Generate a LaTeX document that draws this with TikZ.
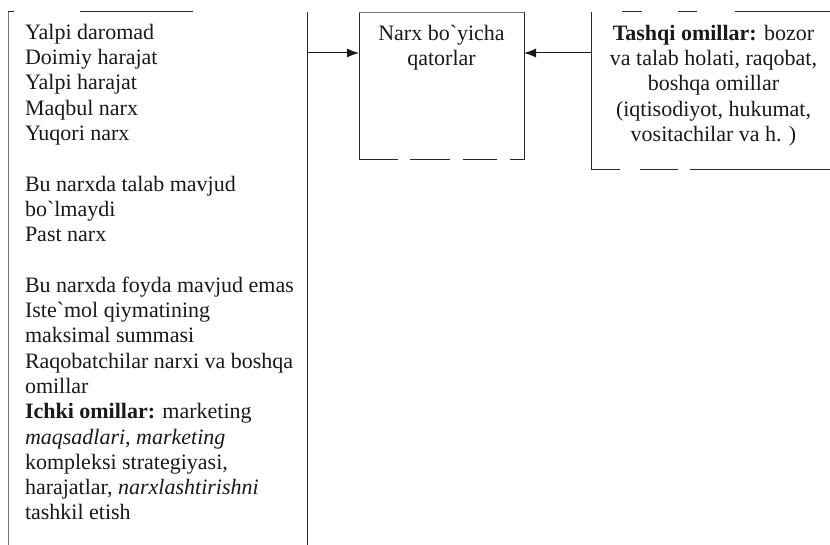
\documentclass[tikz,border=0pt]{standalone}
\usepackage{fontspec}
\setmainfont{Liberation Serif}
\usetikzlibrary{arrows.meta}

\tikzset{
  every node/.style={inner sep=0pt, outer sep=0pt},
  txt/.style={font=\fontsize{22}{25.3}\selectfont, text=black!90},
  edge/.style={draw=black!85, line width=1pt},
  faint/.style={draw=black!55, line width=0.8pt},
  link/.style={draw=black!90, line width=1pt, -{Latex[length=12pt,width=9pt]}}
}

\begin{document}
\begin{tikzpicture}[x=1pt, y=-1pt]
  \useasboundingbox (0,0) rectangle (830,545);

  % box outlines (invisible shapes, edges drawn below)
  \node[rectangle, minimum width=299pt, minimum height=536pt] (left) at (157.5,280) {};
  \node[rectangle, minimum width=165pt, minimum height=148pt] (mid) at (441.5,86) {};
  \node[rectangle, minimum width=249pt, minimum height=158pt] (right) at (715.5,91) {};

  % left box edges
  \draw[faint] (left.north west) -- (left.south west);
  \draw[edge] (left.north east) -- (left.south east);
  \draw[edge, dash pattern=on 6pt off 66pt on 113pt off 300pt] (left.north west) -- (left.north east);

  % middle box edges
  \draw[edge] (mid.north west) -- (mid.south west);
  \draw[edge] (mid.north east) -- (mid.south east);
  \draw[faint] (mid.north west) -- (mid.north east);
  \draw[edge, dash pattern=on 39pt off 12pt on 40pt off 13pt on 34pt off 13pt on 20pt] (mid.south west) -- (mid.south east);

  % right box edges
  \draw[edge] (right.north west) -- (right.south west);
  \draw[edge, dash pattern=on 0pt off 31pt on 20pt off 36pt on 19pt off 38pt on 200pt] (right.north west) -- (right.north east);
  \draw[edge, dash pattern=on 29pt off 20pt on 38pt off 12pt on 200pt] (right.south west) -- (right.south east);

  % texts
  \node[txt, align=left, anchor=north west] (ltext) at (25,24) {%
    Yalpi daromad\\
    Doimiy harajat\\
    Yalpi harajat\\
    Maqbul narx\\
    Yuqori narx\\[25.3pt]
    Bu narxda talab mavjud\\
    bo\textasciigrave lmaydi\\
    Past narx\\[25.3pt]
    Bu narxda foyda mavjud emas\\
    Iste\textasciigrave mol qiymatining\\
    maksimal summasi\\
    Raqobatchilar narxi va boshqa\\
    omillar\\
    \textbf{Ichki omillar:} marketing\\
    \textit{maqsadlari}, \textit{marketing}\\
    kompleksi strategiyasi,\\
    harajatlar, \textit{narxlashtirishni}\\
    tashkil etish};

  \node[txt, align=center, anchor=north] (mtext) at (441.5,25) {%
    Narx bo\textasciigrave yicha\\
    qatorlar};

  \node[txt, align=center, anchor=north] (rtext) at (713.5,25) {%
    \textbf{Tashqi omillar:} bozor\\
    va talab holati, raqobat,\\
    boshqa omillar\\
    (iqtisodiyot, hukumat,\\
    vositachilar va h. )};

  % connectors
  \draw[link] ([yshift=-41pt]left.north east) -- ([yshift=-41pt]mid.north west);
  \draw[link] ([yshift=-41pt]right.north west) -- ([yshift=-41pt]mid.north east);
\end{tikzpicture}
\end{document}
